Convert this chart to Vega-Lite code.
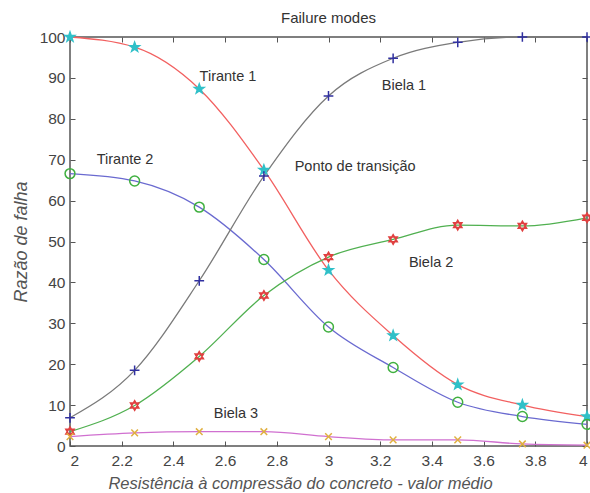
{
  "$schema": "https://vega.github.io/schema/vega-lite/v6.json",
  "width": 517,
  "height": 409,
  "autosize": {"type": "none"},
  "padding": {"left": 70, "top": 37, "right": 3, "bottom": 47},
  "background": "white",
  "title": {"text": "Failure modes", "fontSize": 15, "fontWeight": "normal", "color": "#333", "offset": 3, "anchor": "middle", "frame": "group"},
  "config": {
    "font": "Liberation Sans",
    "view": {"stroke": "#555", "strokeWidth": 1.5},
    "axis": {"grid": false, "domain": false, "tickColor": "#555", "tickSize": -5, "labelColor": "#444", "labelFontSize": 15.5, "titleFontSize": 16.5, "titleFontWeight": "normal", "titleFontStyle": "italic", "titleColor": "#555"}
  },
  "datasets": {
    "curves": [
      {"serie": "Tirante 1", "x": 2, "y": 100}, {"serie": "Tirante 1", "x": 2.25, "y": 97.5}, {"serie": "Tirante 1", "x": 2.5, "y": 87.3}, {"serie": "Tirante 1", "x": 2.75, "y": 67.5}, {"serie": "Tirante 1", "x": 3, "y": 43}, {"serie": "Tirante 1", "x": 3.25, "y": 27}, {"serie": "Tirante 1", "x": 3.5, "y": 15}, {"serie": "Tirante 1", "x": 3.75, "y": 10}, {"serie": "Tirante 1", "x": 4, "y": 7.2},
      {"serie": "Tirante 2", "x": 2, "y": 66.6}, {"serie": "Tirante 2", "x": 2.25, "y": 64.8}, {"serie": "Tirante 2", "x": 2.5, "y": 58.4}, {"serie": "Tirante 2", "x": 2.75, "y": 45.6}, {"serie": "Tirante 2", "x": 3, "y": 29.1}, {"serie": "Tirante 2", "x": 3.25, "y": 19.2}, {"serie": "Tirante 2", "x": 3.5, "y": 10.7}, {"serie": "Tirante 2", "x": 3.75, "y": 7.2}, {"serie": "Tirante 2", "x": 4, "y": 5.3},
      {"serie": "Biela 1", "x": 2, "y": 6.9}, {"serie": "Biela 1", "x": 2.25, "y": 18.5}, {"serie": "Biela 1", "x": 2.5, "y": 40.4}, {"serie": "Biela 1", "x": 2.75, "y": 66}, {"serie": "Biela 1", "x": 3, "y": 85.6}, {"serie": "Biela 1", "x": 3.25, "y": 94.8}, {"serie": "Biela 1", "x": 3.5, "y": 98.7}, {"serie": "Biela 1", "x": 3.75, "y": 100}, {"serie": "Biela 1", "x": 4, "y": 100},
      {"serie": "Biela 2", "x": 2, "y": 3.5}, {"serie": "Biela 2", "x": 2.25, "y": 9.9}, {"serie": "Biela 2", "x": 2.5, "y": 21.9}, {"serie": "Biela 2", "x": 2.75, "y": 36.8}, {"serie": "Biela 2", "x": 3, "y": 46.2}, {"serie": "Biela 2", "x": 3.25, "y": 50.5}, {"serie": "Biela 2", "x": 3.5, "y": 54}, {"serie": "Biela 2", "x": 3.75, "y": 53.8}, {"serie": "Biela 2", "x": 4, "y": 55.8},
      {"serie": "Biela 3", "x": 2, "y": 2.3}, {"serie": "Biela 3", "x": 2.25, "y": 3.2}, {"serie": "Biela 3", "x": 2.5, "y": 3.5}, {"serie": "Biela 3", "x": 2.75, "y": 3.5}, {"serie": "Biela 3", "x": 3, "y": 2.3}, {"serie": "Biela 3", "x": 3.25, "y": 1.5}, {"serie": "Biela 3", "x": 3.5, "y": 1.5}, {"serie": "Biela 3", "x": 3.75, "y": 0.5}, {"serie": "Biela 3", "x": 4, "y": 0.2}
    ],
    "labels": [
      {"label": "Tirante 1", "x": 2.611, "y": 90.2},
      {"label": "Biela 1", "x": 3.292, "y": 87.9},
      {"label": "Tirante 2", "x": 2.213, "y": 69.9},
      {"label": "Ponto de transição", "x": 3.103, "y": 68.1},
      {"label": "Biela 2", "x": 3.397, "y": 44.8},
      {"label": "Biela 3", "x": 2.642, "y": 7.8}
    ]
  },
  "resolve": {"axis": {"x": "independent", "y": "independent"}},
  "layer": [
    {
      "data": {"name": "curves"},
      "mark": {"type": "line", "interpolate": "monotone", "strokeWidth": 1.3},
      "encoding": {
        "x": {"field": "x", "type": "quantitative", "scale": {"domain": [2, 4], "nice": false, "zero": false}, "axis": {"values": [2, 2.2, 2.4, 2.6, 2.8, 3, 3.2, 3.4, 3.6, 3.8, 4], "format": "~g", "labelPadding": 12, "title": "Resistência à compressão do concreto - valor médio", "titlePadding": 7, "titleX": 230, "titleAlign": "center"}},
        "y": {"field": "y", "type": "quantitative", "scale": {"domain": [0, 100], "nice": false}, "axis": {"values": [0, 10, 20, 30, 40, 50, 60, 70, 80, 90, 100], "labelPadding": 10, "title": "Razão de falha", "titlePadding": 9, "titleFontSize": 18}},
        "color": {"field": "serie", "type": "nominal", "legend": null, "scale": {"domain": ["Tirante 1", "Tirante 2", "Biela 1", "Biela 2", "Biela 3"], "range": ["#f26060", "#6a6ad0", "#7a7a7a", "#50b050", "#d070d0"]}}
      }
    },
    {
      "data": {"name": "curves"},
      "mark": {"type": "point", "filled": false, "strokeWidth": 1.5, "opacity": 1},
      "encoding": {
        "x": {"field": "x", "type": "quantitative", "axis": null},
        "y": {"field": "y", "type": "quantitative", "axis": null},
        "shape": {"field": "serie", "type": "nominal", "legend": null, "scale": {"domain": ["Tirante 1", "Tirante 2", "Biela 1", "Biela 2", "Biela 3"], "range": ["M0,-1L0.235,-0.324L0.951,-0.309L0.380,0.124L0.588,0.809L0,0.4L-0.588,0.809L-0.380,0.124L-0.951,-0.309L-0.235,-0.324Z", "circle", "M-1,0L1,0M0,-1L0,1", "M0,-1L0.866,0.5L-0.866,0.5ZM0,1L0.866,-0.5L-0.866,-0.5Z", "M-0.7,-0.7L0.7,0.7M-0.7,0.7L0.7,-0.7"]}},
        "stroke": {"field": "serie", "type": "nominal", "legend": null, "scale": {"domain": ["Tirante 1", "Tirante 2", "Biela 1", "Biela 2", "Biela 3"], "range": ["#30c0c8", "#40b040", "#3030a0", "#e04040", "#e0b040"]}},
        "fill": {"field": "serie", "type": "nominal", "legend": null, "scale": {"domain": ["Tirante 1", "Tirante 2", "Biela 1", "Biela 2", "Biela 3"], "range": ["#30c0c8", "transparent", "transparent", "#e04040", "transparent"]}},
        "size": {"field": "serie", "type": "nominal", "legend": null, "scale": {"domain": ["Tirante 1", "Tirante 2", "Biela 1", "Biela 2", "Biela 3"], "range": [100, 90, 100, 80, 40]}}
      }
    },
    {
      "data": {"name": "labels"},
      "mark": {"type": "text", "fontSize": 14.5, "color": "#333", "align": "center", "baseline": "middle"},
      "encoding": {
        "x": {"field": "x", "type": "quantitative", "axis": {"orient": "top", "values": [2, 2.2, 2.4, 2.6, 2.8, 3, 3.2, 3.4, 3.6, 3.8, 4], "labels": false, "title": null}},
        "y": {"field": "y", "type": "quantitative", "axis": {"orient": "right", "values": [0, 10, 20, 30, 40, 50, 60, 70, 80, 90, 100], "labels": false, "title": null}},
        "text": {"field": "label"}
      }
    }
  ]
}
